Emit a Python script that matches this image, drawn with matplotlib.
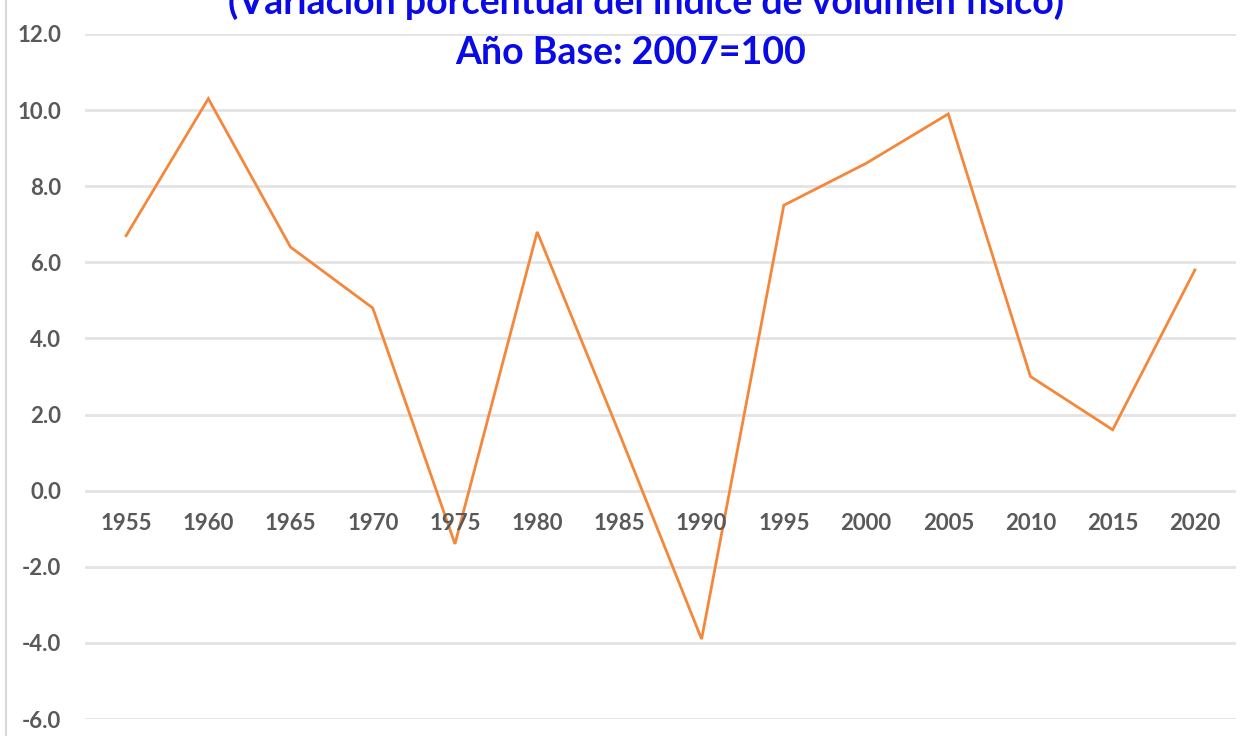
import matplotlib
matplotlib.use("Agg")
import matplotlib.pyplot as plt

years = ["1955", "1960", "1965", "1970", "1975", "1980", "1985",
         "1990", "1995", "2000", "2005", "2010", "2015", "2020"]
values = [6.7, 10.3, 6.4, 4.8, -1.4, 6.8, 1.5,
          -3.9, 7.5, 8.6, 9.9, 3.0, 1.6, 5.8]
yticks = [-6, -4, -2, 0, 2, 4, 6, 8, 10, 12]
title1 = "(Variación porcentual del índice de volumen físico)"
title2 = "Año Base: 2007=100"

plt.rcParams['font.family'] = ['Lato', 'DejaVu Sans']

W, H = 1244, 736
fig = plt.figure(figsize=(W / 100, H / 100), dpi=100)
ax = fig.add_axes([85 / W, 1 - 719 / H, (1236 - 85) / W, (719 - 34) / H])

x = list(range(len(years)))
ax.plot(x, values, color="#F5873A", linewidth=2.0, zorder=3, solid_joinstyle="miter")

ax.set_xlim(-0.5, len(years) - 0.5)
ax.set_ylim(-6, 12)
ax.set_yticks(yticks)
ax.set_yticklabels([f"{v:.1f}" for v in yticks], fontsize=16, fontweight="bold", color="#595959")
ax.tick_params(axis="y", length=0, pad=17)
ax.set_xticks([])
for xi, lab in zip(x, years):
    ax.annotate(lab, (xi, 0), xytext=(0, -33), textcoords="offset pixels",
                ha="center", va="center", fontsize=16, fontweight="bold", color="#595959")

ax.grid(axis="y", color="#E3E3E3", linewidth=2)
ax.set_axisbelow(True)
for s in ax.spines.values():
    s.set_visible(False)

fig.text(646 / W, 1 - 14 / H, title1, ha="center", va="baseline",
         fontsize=27, fontweight="bold", color="#0A0AE6")
fig.text(631 / W, 1 - 64 / H, title2, ha="center", va="baseline",
         fontsize=27, fontweight="bold", color="#0A0AE6")

fig.add_artist(plt.Line2D([6 / W, 6 / W], [0, 1], transform=fig.transFigure,
                          color="#D9D9D9", linewidth=1.5))

fig.savefig("out.png", dpi=100)
